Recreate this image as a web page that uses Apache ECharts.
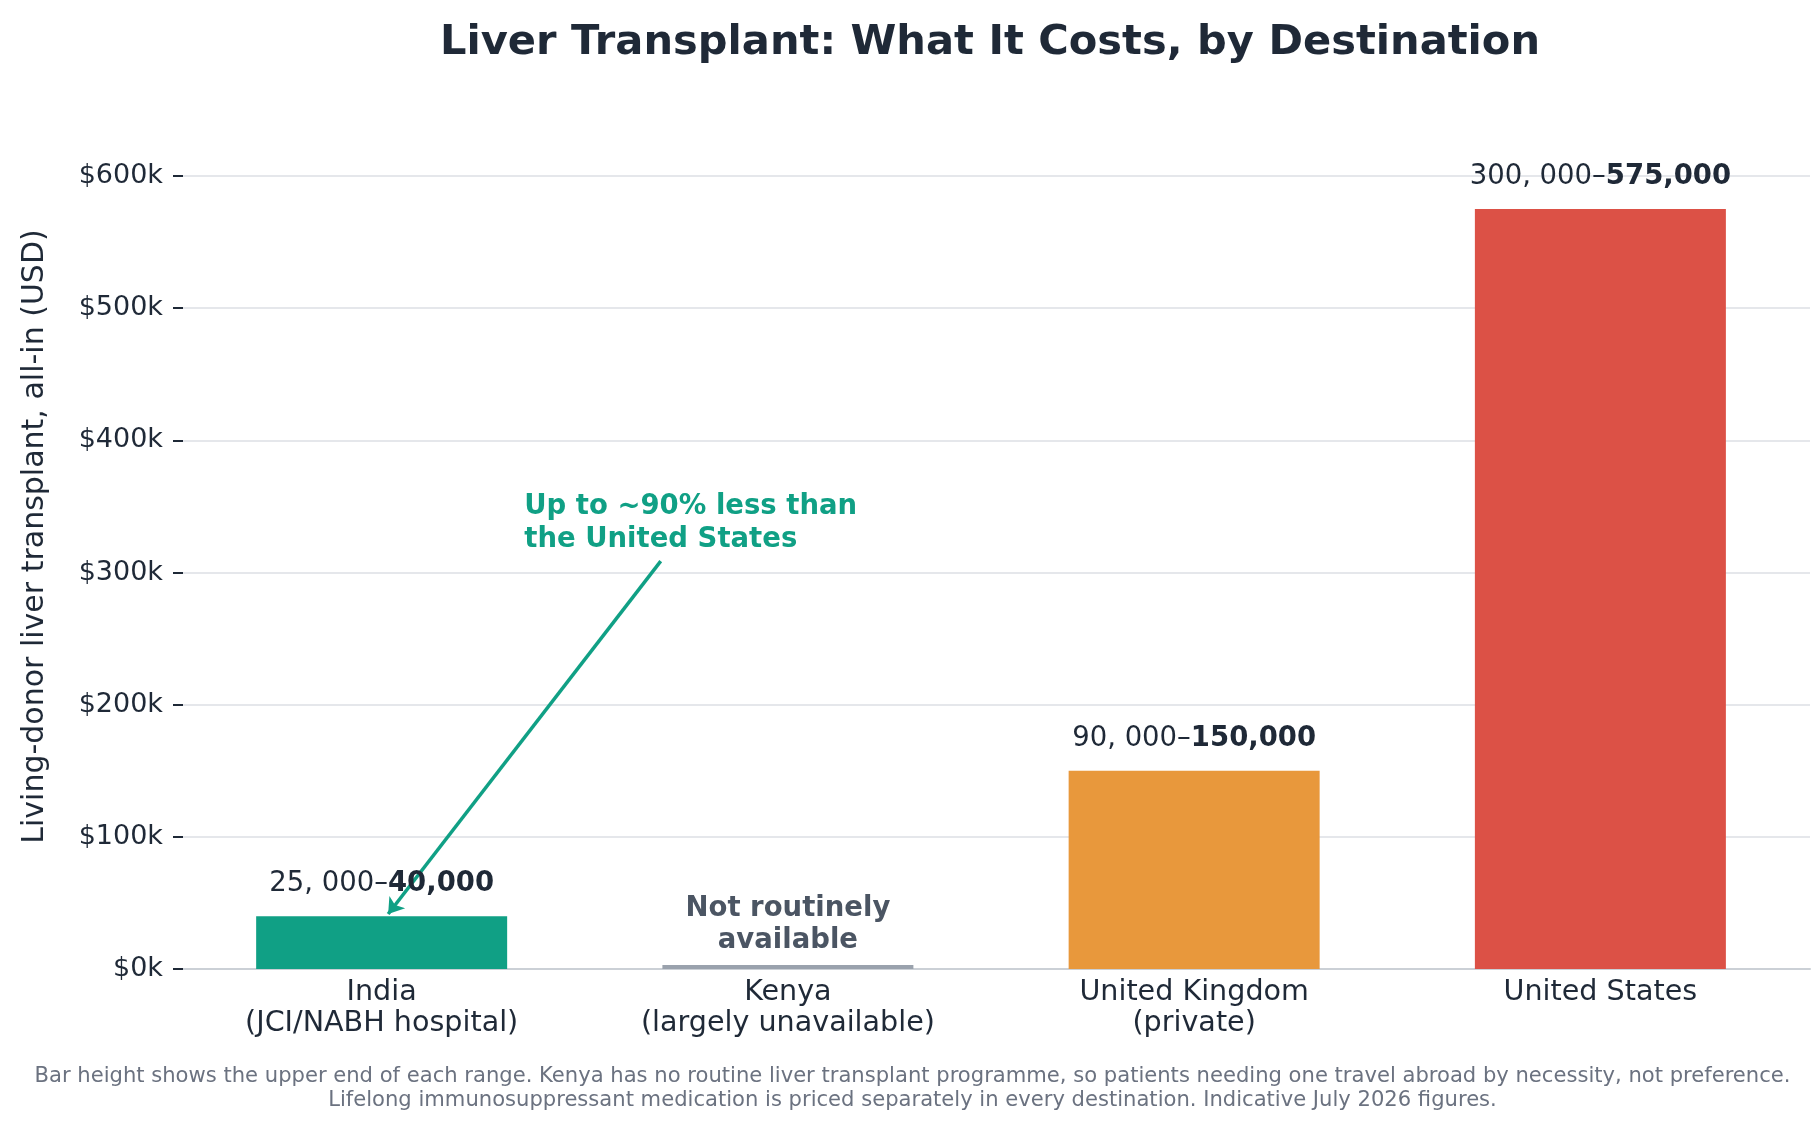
<!DOCTYPE html>
<html>
<head>
<meta charset="utf-8">
<script src="https://cdn.jsdelivr.net/npm/echarts@6/dist/echarts.min.js"></script>
<style>
html,body{margin:0;padding:0;background:#fff;}
#main{width:1819px;height:1129px;}
</style>
</head>
<body>
<div id="main"></div>
<script>
// chart data
var categories = ['India\n(JCI/NABH hospital)', 'Kenya\n(largely unavailable)', 'United Kingdom\n(private)', 'United States'];
var costLow = [25000, null, 90000, 300000];
var costHigh = [40000, 3000, 150000, 575000];
var yTicks = [0, 100000, 200000, 300000, 400000, 500000, 600000];
var noteText = 'Up to ~90% less than\nthe United States';
var footText = 'Bar height shows the upper end of each range. Kenya has no routine liver transplant programme, so patients needing one travel abroad by necessity, not preference.\nLifelong immunosuppressant medication is priced separately in every destination. Indicative July 2026 figures.';

// annotation anchors in data space (x = category index, y = USD)
var arrowFrom = [0.687, 308600];
var arrowTo = [0.016, 41600];
var noteAt = [0.351, 337000];

var barColors = ['#10a085', '#9aa2ad', '#e8983c', '#dc5146'];
var dark = '#1f2937';
var teal = '#10a085';

var W = 1819, gridLeft = 183, gridRight = 9;

function fmt(n){ return n.toLocaleString('en-US'); }

var myChart = echarts.init(document.getElementById('main'));
var barData = [], catIdx = [];
for (var i = 0; i < costHigh.length; i++) {
    var item = {value: [i, costHigh[i]], itemStyle: {color: barColors[i]}};
    if (costLow[i] == null) item.label = {distance: 8};
    barData.push(item);
    catIdx.push(i);
}

var option = {
    backgroundColor: '#ffffff',
    textStyle: {fontFamily: 'DejaVu Sans'},
    title: [{
        text: 'Liver Transplant: What It Costs, by Destination',
        left: 985,
        textAlign: 'center',
        top: 17,
        textStyle: {fontSize: 41.6, fontWeight: 'bold', color: dark, fontFamily: 'DejaVu Sans'}
    }, {
        text: footText,
        left: W / 2 - 2,
        textAlign: 'center',
        bottom: 11,
        textStyle: {fontSize: 21.1, fontWeight: 'normal', color: '#6b7280', lineHeight: 24, fontFamily: 'DejaVu Sans'}
    }],
    grid: {left: gridLeft, right: gridRight, top: 176, bottom: 160},
    xAxis: [{
        type: 'category',
        data: categories,
        axisLine: {lineStyle: {color: '#cbd0d6', width: 2}},
        axisTick: {show: false},
        axisLabel: {show: false}
    }, {
        type: 'value',
        min: -0.489,
        max: 3.516,
        position: 'bottom',
        axisLine: {show: false, onZero: false},
        axisTick: {show: false},
        splitLine: {show: false},
        axisLabel: {
            customValues: catIdx,
            fontSize: 28.6, lineHeight: 31, color: dark, margin: 8,
            formatter: function(v){ return categories[Math.round(v)] || ''; }
        }
    }],
    yAxis: {
        type: 'value',
        min: yTicks[0],
        max: yTicks[yTicks.length - 1],
        interval: 100000,
        name: 'Living-donor liver transplant, all-in (USD)',
        nameLocation: 'middle',
        nameRotate: 90,
        nameGap: 133,
        nameTextStyle: {fontSize: 30, color: dark, padding: [0, 0, 0, 72]},
        axisLine: {show: false, onZero: false},
        axisTick: {show: true, length: 10, lineStyle: {color: dark, width: 2}},
        axisLabel: {fontSize: 27, color: dark, margin: 20, formatter: function(v){ return '$' + (v / 1000) + 'k'; }},
        splitLine: {lineStyle: {color: '#e5e7eb', width: 2}}
    },
    series: [{
        name: 'Cost',
        type: 'bar',
        xAxisIndex: 1,
        yAxisIndex: 0,
        barWidth: 251,
        data: barData,
        label: {
            show: true,
            position: 'top',
            distance: 18,
            formatter: function(p){
                var k = p.dataIndex;
                if (costLow[k] == null) return '{na|Not routinely}\n{na|available}';
                return '{r|' + fmt(costLow[k]).replace(/,/g, ', ') + '–}{b|' + fmt(costHigh[k]) + '}';
            },
            rich: {
                r: {fontSize: 27.5, color: dark},
                b: {fontSize: 27.5, color: dark, fontWeight: 'bold'},
                na: {fontSize: 27.5, color: '#4b5563', fontWeight: 'bold', lineHeight: 32}
            }
        }
    }, {
        name: 'arrow',
        type: 'lines',
        coordinateSystem: 'cartesian2d',
        xAxisIndex: 1,
        yAxisIndex: 0,
        silent: true,
        symbol: ['none', 'arrow'],
        symbolSize: 15,
        lineStyle: {color: teal, width: 3.5, opacity: 1},
        data: [{coords: [arrowFrom, arrowTo]}]
    }, {
        name: 'note',
        type: 'scatter',
        xAxisIndex: 1,
        yAxisIndex: 0,
        silent: true,
        symbolSize: 0,
        itemStyle: {color: 'transparent', opacity: 1},
        data: [noteAt],
        label: {
            show: true,
            position: 'right',
            distance: 0,
            align: 'left',
            formatter: noteText,
            fontSize: 27.5,
            lineHeight: 33,
            fontWeight: 'bold',
            color: teal,
            opacity: 1
        }
    }]
};

myChart.setOption(option);
</script>
</body>
</html>
